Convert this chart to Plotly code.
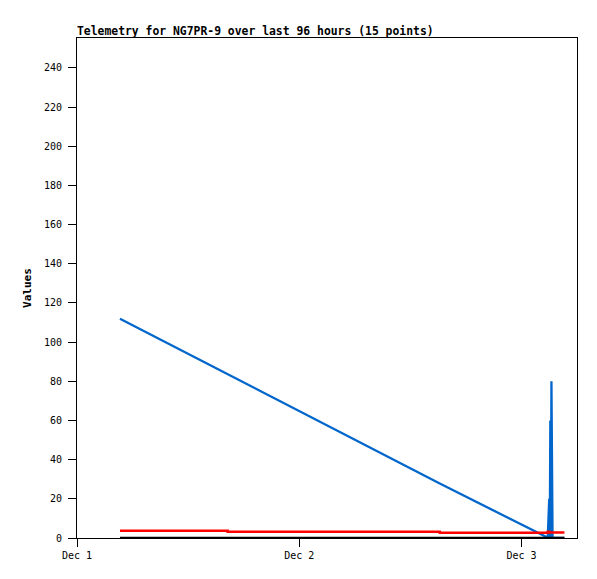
import plotly.graph_objects as go
from datetime import datetime, timedelta

base = datetime(2024, 12, 1)
hours = [4.64, 16.27, 39.18, 50.70, 50.84, 51.00, 51.06, 51.12, 51.18, 51.24, 51.30, 51.36, 51.42, 51.50, 52.64]
blue_vals = [112, 83.7, 27.8, 0.5, 0, 20, 0, 60, 0, 80, 0, 0, 0, 0, 0]
red_vals = [3.7, 3.2, 2.65, 2.65, 3.2, 2.85, 2.85, 2.85, 2.85, 2.85, 2.85, 2.85, 2.85, 2.85, 2.85]
black_vals = [0] * 15
tick_labels = ["Dec 1", "Dec 2", "Dec 3"]
y_ticks = list(range(0, 241, 20))

times = [base + timedelta(hours=h) for h in hours]
tick_vals = [base + timedelta(days=i) for i in range(3)]

fig = go.Figure()
fig.add_trace(go.Scatter(x=times, y=blue_vals, mode="lines",
                         line=dict(color="#0066cc", width=2.3), showlegend=False))
fig.add_trace(go.Scatter(x=times, y=red_vals, mode="lines",
                         line=dict(color="#ff0000", width=2.5, shape="hv"), showlegend=False))
fig.add_trace(go.Scatter(x=times, y=black_vals, mode="lines",
                         line=dict(color="#000000", width=2.5), showlegend=False))

mono = "DejaVu Sans Mono"
W, H = 589, 571
fig.update_layout(
    width=W, height=H,
    margin=dict(l=69, r=20, t=30, b=41),
    paper_bgcolor="white", plot_bgcolor="white",
    title=dict(text="<b>Telemetry for NG7PR-9 over last 96 hours (15 points)</b>",
               font=dict(family=mono, size=11.4, color="black"),
               x=69/W, xanchor="left", xref="container",
               y=1 - 23/H, yanchor="middle", yref="container"),
    xaxis=dict(range=[base, base + timedelta(hours=54)],
               tickvals=tick_vals, ticktext=tick_labels,
               showgrid=False, zeroline=False,
               showline=True, linecolor="black", linewidth=1, mirror=True,
               ticks="outside", ticklen=8, tickcolor="black",
               tickfont=dict(family=mono, size=10, color="black")),
    yaxis=dict(range=[0, 255.3], tickvals=y_ticks,
               showgrid=False, zeroline=False,
               showline=True, linecolor="black", linewidth=1, mirror=True,
               ticks="outside", ticklen=8, tickcolor="black",
               ticklabelstandoff=4,
               tickfont=dict(family=mono, size=10, color="black"),
               title=dict(text="<b>Values</b>", standoff=10,
                          font=dict(family=mono, size=11, color="black"))),
)

fig.write_html("out.html")
